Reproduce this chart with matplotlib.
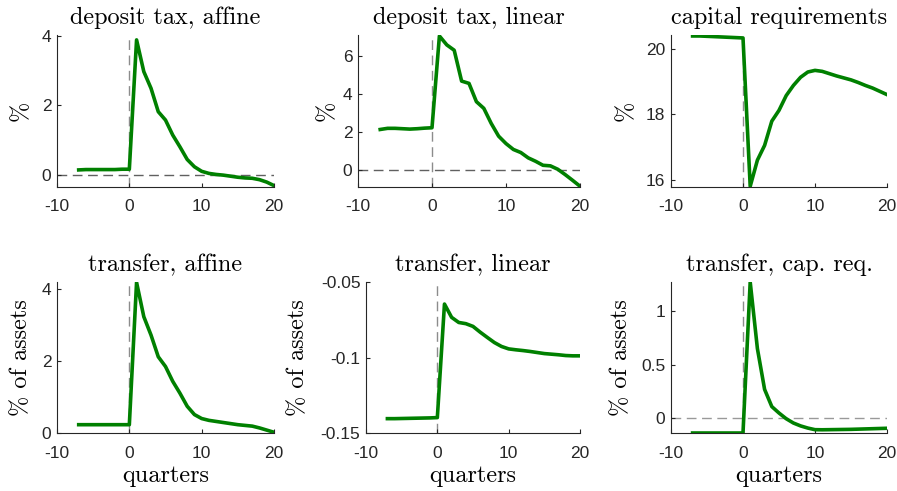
import matplotlib
matplotlib.use("Agg")
import matplotlib.pyplot as plt
import numpy as np

plt.rcParams['axes.unicode_minus'] = False
plt.rcParams['font.family'] = ['Liberation Sans', 'DejaVu Sans']

quarters = list(range(-7, 21))

deposit_tax_affine = [0.15, 0.16, 0.16, 0.16, 0.16, 0.16, 0.17, 0.17,
                      3.88, 2.97, 2.49, 1.82, 1.58, 1.15, 0.81, 0.45, 0.24,
                      0.11, 0.05, 0.02, 0.0, -0.03, -0.06, -0.08, -0.09,
                      -0.13, -0.2, -0.3]
deposit_tax_linear = [2.14, 2.2, 2.2, 2.18, 2.16, 2.18, 2.21, 2.23,
                      7.05, 6.58, 6.3, 4.68, 4.56, 3.6, 3.25, 2.46, 1.79,
                      1.4, 1.09, 0.93, 0.65, 0.47, 0.26, 0.23, 0.05,
                      -0.23, -0.53, -0.84]
capital_requirements = [20.39, 20.39, 20.38, 20.37, 20.36, 20.35, 20.34, 20.33,
                        15.8, 16.6, 17.05, 17.79, 18.12, 18.57, 18.88, 19.13, 19.29,
                        19.34, 19.31, 19.24, 19.17, 19.11, 19.05, 18.97, 18.88,
                        18.8, 18.7, 18.6]
transfer_affine = [0.23, 0.23, 0.23, 0.23, 0.23, 0.23, 0.23, 0.23,
                   4.17, 3.22, 2.71, 2.11, 1.84, 1.43, 1.1, 0.74, 0.51,
                   0.4, 0.35, 0.32, 0.29, 0.26, 0.23, 0.21, 0.19,
                   0.14, 0.08, 0.02]
transfer_linear = [-0.1405, -0.1405, -0.1404, -0.1403, -0.1402, -0.1401, -0.1400, -0.1398,
                   -0.0646, -0.0734, -0.0768, -0.0776, -0.0794, -0.0832, -0.0867, -0.0901, -0.0927,
                   -0.0943, -0.0949, -0.0954, -0.0960, -0.0967, -0.0974, -0.0978, -0.0982,
                   -0.0987, -0.0989, -0.0989]
transfer_cap_req = [-0.136, -0.136, -0.136, -0.136, -0.136, -0.136, -0.136, -0.136,
                    1.27, 0.65, 0.27, 0.11, 0.05, -0.003, -0.043, -0.07, -0.09,
                    -0.105, -0.106, -0.105, -0.104, -0.103, -0.102, -0.1, -0.098,
                    -0.096, -0.094, -0.092]

titles = ["deposit tax, affine", "deposit tax, linear", "capital requirements",
          "transfer, affine", "transfer, linear", "transfer, cap. req."]
ylabels = ["%", "%", "%", "% of assets", "% of assets", "% of assets"]
xticks = [-10, 0, 10, 20]
xticklabels = ["-10", "0", "10", "20"]
yticks = [[0, 2, 4], [0, 2, 4, 6], [16, 18, 20], [0, 2, 4], [-0.15, -0.1, -0.05], [0, 0.5, 1]]
yticklabels = [["0", "2", "4"], ["0", "2", "4", "6"], ["16", "18", "20"], ["0", "2", "4"],
               ["-0.15", "-0.1", "-0.05"], ["0", "0.5", "1"]]
ylims = [(-0.34, 4.02), (-0.88, 7.1), (15.78, 20.42), (0.0, 4.18), (-0.15, -0.05), (-0.136, 1.27)]
series = [deposit_tax_affine, deposit_tax_linear, capital_requirements,
          transfer_affine, transfer_linear, transfer_cap_req]
zero_lines = [True, True, False, False, False, True]

W, H = 897, 491
boxes = [(57, 35, 274, 187), (358, 35, 580, 187), (671, 35, 887, 187),
         (57, 282, 274, 433), (366, 282, 580, 433), (671, 282, 887, 433)]
ylabel_x = [-0.115, -0.09, -0.157, -0.115, -0.266, -0.18]

fig = plt.figure(figsize=(W / 100, H / 100), dpi=100)
serif = 'cmr10'
axcol = '#262626'
for i in range(6):
    l, t, r, b = boxes[i]
    ax = fig.add_axes([l / W, 1 - b / H, (r - l) / W, (b - t) / H])
    ax.set_xlim(-10, 20)
    ax.set_ylim(*ylims[i])
    ax.axvline(0, color='#8c8c8c', lw=1.0, ls=(0, (7, 4)), zorder=1)
    if zero_lines[i]:
        ax.axhline(0, color='#606060' if i < 3 else '#999999', lw=1.0, ls=(0, (7, 4)), zorder=1)
    ax.plot(quarters, series[i], color='#008000', lw=2.6, zorder=3, solid_joinstyle='round')
    ax.spines['top'].set_visible(False)
    ax.spines['right'].set_visible(False)
    for s in ('left', 'bottom'):
        ax.spines[s].set_color(axcol)
        ax.spines[s].set_linewidth(0.8)
    ax.set_xticks(xticks)
    ax.set_xticklabels(xticklabels)
    ax.set_yticks(yticks[i])
    ax.set_yticklabels(yticklabels[i])
    ax.tick_params(direction='in', length=3, width=0.8, color=axcol, labelcolor=axcol,
                   labelsize=12.5)
    ax.tick_params(axis='x', pad=9)
    ax.tick_params(axis='y', pad=4)
    ax.set_title(titles[i], family=serif, fontsize=17.5, pad=8)
    ax.set_ylabel(ylabels[i], family=serif, fontsize=17.5)
    ax.yaxis.set_label_coords(ylabel_x[i], 0.5)
    if i >= 3:
        ax.set_xlabel("quarters", family=serif, fontsize=17.5, labelpad=3)

fig.savefig("out.png", dpi=100)
